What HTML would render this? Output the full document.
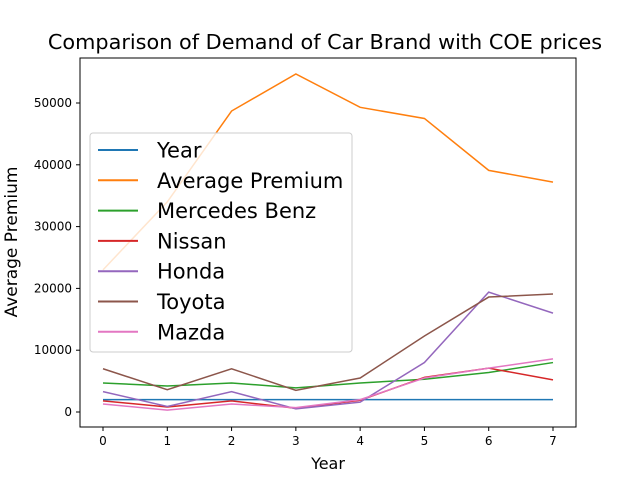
<!DOCTYPE html>
<html><head><meta charset="utf-8"><style>
body{margin:0;background:#fff;}
svg text{font-family:"DejaVu Sans","Liberation Sans",sans-serif;}
</style></head><body>
<svg width="640" height="480" xmlns="http://www.w3.org/2000/svg">
<rect width="640" height="480" fill="#fff"/>
<g id="plot"></g>
<g id="ticks"></g>
<rect x="80" y="58" width="496" height="369" fill="none" stroke="#000" stroke-width="1"/>
<text x="325" y="49" font-size="20.8" text-anchor="middle">Comparison of Demand of Car Brand with COE prices</text>
<text x="328" y="469" font-size="16" text-anchor="middle">Year</text>
<text x="17" y="242" font-size="17" text-anchor="middle" transform="rotate(-90 17 242)">Average Premium</text>
<g id="legend"></g>
</svg>
<script>
const years=[0,1,2,3,4,5,6,7];
const seriesNames=["Year","Average Premium","Mercedes Benz","Nissan","Honda","Toyota","Mazda"];
const yearVals=[2000,2000,2000,2000,2000,2000,2000,2000];
const premium=[23000,34000,48700,54700,49300,47500,39100,37200];
const mercedes=[4700,4200,4700,3900,4700,5300,6400,8000];
const nissan=[1800,800,1800,600,1900,5600,7100,5200];
const honda=[3300,900,3300,500,1600,8000,19400,16000];
const toyota=[7000,3600,7000,3500,5500,12300,18600,19100];
const mazda=[1300,300,1300,700,2000,5500,7100,8600];
const yTicks=[0,10000,20000,30000,40000,50000];
const colors=["#1f77b4","#ff7f0e","#2ca02c","#d62728","#9467bd","#8c564b","#e377c2"];
const data=[yearVals,premium,mercedes,nissan,honda,toyota,mazda];
const NS="http://www.w3.org/2000/svg";
const xs=v=>103+v*(553-103)/7;
const ys=v=>412-v*(412-103)/50000;
const plot=document.getElementById('plot'),ticks=document.getElementById('ticks'),leg=document.getElementById('legend');
function mk(t,a,p){const e=document.createElementNS(NS,t);for(const k in a)e.setAttribute(k,a[k]);p.appendChild(e);return e;}
data.forEach((s,i)=>{
 const p=mk('polyline',{points:s.map((v,j)=>xs(years[j])+','+ys(v)).join(' '),fill:'none',stroke:colors[i],'stroke-width':1.5},plot);
 
 
});
years.forEach(v=>{
 const l=mk('line',{x1:xs(v),x2:xs(v),y1:427,y2:431,stroke:'#000'},ticks);
 
 
 const t=mk('text',{x:xs(v),y:445,'font-size':12,'text-anchor':'middle'},ticks);t.textContent=v;
 
 
});
yTicks.forEach(v=>{
 const l=mk('line',{x1:76,x2:80,y1:ys(v),y2:ys(v),stroke:'#000'},ticks);
 
 
 const t=mk('text',{x:72,y:ys(v)+4,'font-size':12,'text-anchor':'end'},ticks);t.textContent=v;
 
 
});
const box=mk('rect',{x:90,y:133,width:262,height:219,rx:3,fill:'#fff','fill-opacity':0.8,stroke:'#ccc'},leg);


seriesNames.forEach((n,i)=>{
 const y=150+i*30.3;
 const l=mk('line',{x1:98,x2:138,y1:y,y2:y,stroke:colors[i],'stroke-width':2},leg);
 
 
 const t=mk('text',{x:157,y:y+7.5,'font-size':21},leg);t.textContent=n;
 
 
});
</script>
</body></html>
